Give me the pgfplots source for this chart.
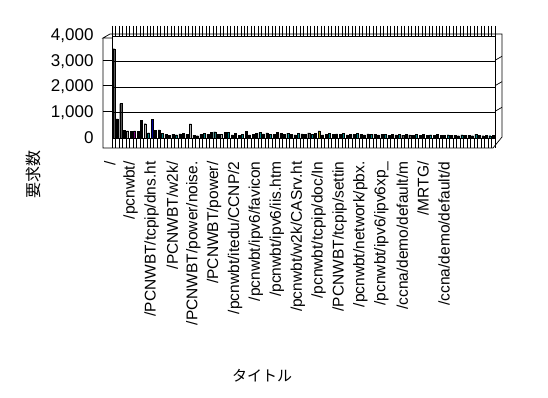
\documentclass[border=0pt]{standalone}
\usepackage{pgfplots}
\pgfplotsset{compat=1.18}
\usepackage{fontspec}
\setmainfont{Liberation Sans}
\newfontfamily\jp{Noto Sans CJK JP}
\begin{document}
\begin{tikzpicture}[x=1pt,y=1pt]
\path[use as bounding box] (0,0) rectangle (548,398);
\begin{axis}[
  at={(112pt,260pt)}, anchor=south west, scale only axis,
  width=383pt, height=102pt,
  xmin=-0.5, xmax=109.5, ymin=0, ymax=4000,
  axis line style={black, line width=0.7pt},
  ytick={0,1000,2000,3000,4000},
  ymajorgrids, grid style={black, line width=0.7pt},
  major tick length=0pt,
  scaled y ticks=false,
  /pgf/number format/assume math mode=true,
  /pgf/number format/1000 sep={,},
  yticklabel style={font=\fontsize{17}{17}\selectfont, anchor=east, xshift=-15pt},
  xtick={0,6,...,96},
  xticklabels={/,/pcnwbt/,/PCNWBT/tcpip/dns.ht,/PCNWBT/w2k/,/PCNWBT/power/noise.,/PCNWBT/power/,/pcnwbt/itedu/CCNP/2,/pcnwbt/ipv6/favicon,/pcnwbt/ipv6/iis.htm,/pcnwbt/w2k/CASrv.ht,/pcnwbt/tcpip/doc/In,/PCNWBT/tcpip/settin,/pcnwbt/network/pbx.,/pcnwbt/ipv6/ipv6xp\_,/ccna/demo/default/m,/MRTG/,/ccna/demo/default/d},
  xticklabel style={font=\fontsize{15.5}{15.5}\selectfont, xshift=-4pt, rotate=90, anchor=east},
  xticklabel shift=20pt,
  minor xtick={-0.5,0.5,...,109.5},
  minor tick length=10pt,
  xtick align=outside,
  minor tick style={black, line width=0.6pt},
  clip=false,
]
\addplot[ybar, bar width=2.0pt, bar shift=0pt, draw=black, line width=0.4pt, fill=black] coordinates {
(0,3500)(1,750)(2,1350)(3,300)(4,280)(5,270)(6,280)(7,260)(8,680)(9,560)
(10,200)(11,720)(12,310)(13,320)(14,170)(15,130)(16,110)(17,150)(18,120)(19,160)
(20,190)(21,140)(22,550)(23,110)(24,90)(25,140)(26,170)(27,150)(28,230)(29,240)
(30,130)(31,150)(32,210)(33,230)(34,120)(35,170)(36,110)(37,150)(38,270)(39,120)
(40,140)(41,180)(42,210)(43,160)(44,200)(45,150)(46,130)(47,220)(48,170)(49,140)
(50,190)(51,150)(52,120)(53,180)(54,160)(55,130)(56,200)(57,140)(58,170)(59,280)
(60,120)(61,150)(62,170)(63,130)(64,160)(65,140)(66,180)(67,120)(68,150)(69,130)
(70,170)(71,140)(72,120)(73,160)(74,130)(75,150)(76,120)(77,140)(78,130)(79,110)
(80,150)(81,120)(82,140)(83,110)(84,130)(85,120)(86,100)(87,140)(88,110)(89,130)
(90,100)(91,120)(92,110)(93,130)(94,100)(95,110)(96,120)(97,100)(98,110)(99,90)
(100,120)(101,100)(102,110)(103,90)(104,140)(105,100)(106,90)(107,100)(108,90)(109,100)
};
\addplot[ybar, bar width=2.0pt, bar shift=0pt, draw=black, line width=0.4pt, fill=teal] coordinates {
(10,200)(14,170)(18,120)(26,170)(29,240)(33,230)(37,150)(42,210)(45,150)(50,190)(53,180)
(57,140)(62,170)(66,180)(70,170)(74,130)(78,130)(82,140)(87,140)(91,120)(96,120)(100,120)(104,140)(108,90)
};
\addplot[ybar, bar width=2.0pt, bar shift=0pt, draw=black, line width=0.4pt, fill=gray!60] coordinates {
(4,280)(9,560)(22,550)(31,150)
};
\addplot[ybar, bar width=2.0pt, bar shift=0pt, draw=black, line width=0.4pt, fill=blue!60!black] coordinates {
(11,720)
};
\addplot[ybar, bar width=2.0pt, bar shift=0pt, draw=black, line width=0.4pt, fill=violet] coordinates {
(6,280)
};
\addplot[ybar, bar width=2.0pt, bar shift=0pt, draw=black, line width=0.4pt, fill=olive] coordinates {
(59,280)
};
\end{axis}
% 3D frame
\draw[line width=0.7pt] (103,360) -- (103,250) -- (493,250) -- (502,261) -- (502,364) -- (110,364) -- (103,360) -- (112,360);
\foreach \y in {286.7,312.3,337.7} {\draw[line width=0.7pt] (103,\y) -- (112,\y); \draw[line width=0.7pt] (495,\y) -- (502,\y+4);}
\node[font=\jp\fontsize{16}{16}\selectfont, rotate=90] at (33,223) {要求数};
\node[font=\jp\fontsize{15}{15}\selectfont] at (262,22) {タイトル};
\end{tikzpicture}
\end{document}
